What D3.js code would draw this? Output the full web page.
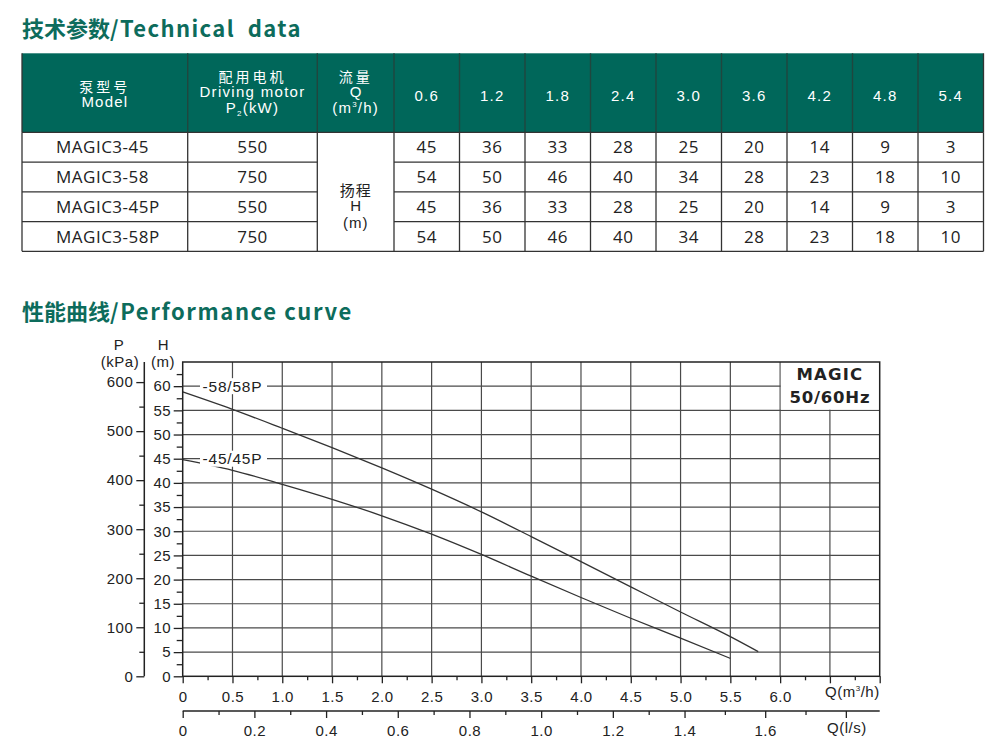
<!DOCTYPE html>
<html>
<head>
<meta charset="utf-8">
<script src="https://cdn.jsdelivr.net/npm/d3@7"></script>
<style>
  body { margin: 0; background: #fff; }
  svg { display: block; }
</style>
</head>
<body>
<div id="vis-container"></div>
<script>
// ---- table data ----
const flowHeads = ["0.6", "1.2", "1.8", "2.4", "3.0", "3.6", "4.2", "4.8", "5.4"];
const models = ["MAGIC3-45", "MAGIC3-58", "MAGIC3-45P", "MAGIC3-58P"];
const motors = ["550", "750", "550", "750"];
const heads = [
  [45, 36, 33, 28, 25, 20, 14, 9, 3],
  [54, 50, 46, 40, 34, 28, 23, 18, 10],
  [45, 36, 33, 28, 25, 20, 14, 9, 3],
  [54, 50, 46, 40, 34, 28, 23, 18, 10]
];

// ---- curve data ----
const curveQ58 = [0, 0.5, 1, 1.5, 2, 2.5, 3, 3.5, 4, 4.5, 5, 5.5, 5.78];
const curveH58 = [58.8, 55.2, 51.3, 47.3, 43.1, 38.7, 34.0, 28.9, 23.7, 18.5, 13.3, 8.2, 5.1];
const curveQ45 = [0, 0.5, 1, 1.5, 2, 2.5, 3, 3.5, 4, 4.5, 5, 5.5];
const curveH45 = [44.8, 42.6, 39.7, 36.6, 33.2, 29.4, 25.2, 20.7, 16.3, 12.0, 7.9, 3.7];
const curveNames = ["-58/58P", "-45/45P"];
const curveLabelH = [60, 45];

// ---- axis ticks ----
const hTicks = d3.range(0, 61, 5);
const pTicks = d3.range(0, 601, 100);
const qTicks = d3.range(0, 6.01, 0.5);
const qlsTicks = [0, 0.2, 0.4, 0.6, 0.8, 1.0, 1.2, 1.4, 1.6];
// l/s axis as printed: stretched after 1.4
const qlsKnots = [0, 1.4, 1.8];
const qlsAtQ = [0, 5.04, 6.66];

const W = 1004, H = 750;
const svg = d3.select("#vis-container").append("svg")
  .attr("width", W).attr("height", H);

const green = "#00675a";
const titleGreen = "#0d6c5c";
const ink = "#222";
const latin = "'Liberation Sans', Arial, sans-serif";
const cjk = "'Noto Sans CJK SC', sans-serif";
const body = "'Open Sans', sans-serif";

// Titles
function title(y, cn, en, ls) {
  const t = svg.append("text")
    .attr("x", 22).attr("y", y)
    .attr("fill", titleGreen)
    .style("font-family", cjk)
    .style("font-weight", 700)
    .style("font-size", "22px");
  t.append("tspan").text(cn);
  t.append("tspan").style("letter-spacing", ls + "px").text(en);
}
title(36.5, "技术参数", "/Technical\u00a0\u00a0data", 1.4);
title(319.5, "性能曲线", "/Performance curve", 1.6);

// ---- Table ----
const colEdges = [22, 187.7, 317.3, 394].concat(d3.range(1, 10).map(i => 394 + i * 65.5));
const headTop = 53.3, headBot = 132.3, rowH = 29.75;
const rowEdges = d3.range(0, 5).map(i => headBot + i * rowH);
const tbl = svg.append("g");

tbl.append("rect")
  .attr("x", colEdges[0]).attr("y", headTop)
  .attr("width", colEdges[12] - colEdges[0]).attr("height", headBot - headTop)
  .attr("fill", green);

function cellText(x, yc, str, opt = {}) {
  const size = opt.size || 15;
  return tbl.append("text")
    .attr("x", x).attr("y", yc + size * 0.36)
    .attr("text-anchor", opt.anchor || "middle")
    .attr("fill", opt.fill || ink)
    .style("font-family", opt.font || latin)
    .style("font-size", size + "px")
    .style("letter-spacing", (opt.ls || 0) + "px")
    .text(str);
}

const mid = i => (colEdges[i] + colEdges[i + 1]) / 2;
const white = "#fff";
cellText(mid(0), 86.7, "泵型号", { font: cjk, size: 14, fill: white, ls: 3 });
cellText(mid(0), 101.7, "Model", { size: 15, fill: white, ls: 1.2 });
cellText(mid(1), 76.7, "配用电机", { font: cjk, size: 14, fill: white, ls: 3 });
cellText(mid(1), 91.7, "Driving motor", { size: 15, fill: white, ls: 1.3 });
const p2 = cellText(mid(1), 107.3, "P", { size: 15, fill: white, ls: 1.2 });
p2.append("tspan").attr("dy", 3).style("font-size", "8px").text("2");
p2.append("tspan").attr("dy", -3).text("(kW)");
cellText(mid(2), 76.7, "流量", { font: cjk, size: 14, fill: white, ls: 3 });
cellText(mid(2), 91.7, "Q", { size: 15, fill: white });
const m3 = cellText(mid(2), 107.3, "(m", { size: 15, fill: white, ls: 1.2 });
m3.append("tspan").attr("dy", -6).style("font-size", "8px").text("3");
m3.append("tspan").attr("dy", 6).text("/h)");
flowHeads.forEach((f, i) => {
  cellText(mid(3 + i), 96, f, { size: 15, fill: white, ls: 1.2 });
});

// body cells
models.forEach((m, r) => {
  const yc = (rowEdges[r] + rowEdges[r + 1]) / 2;
  cellText(56, yc, m, { font: body, size: 17, anchor: "start", ls: 0.5 });
  cellText(mid(1), yc, motors[r], { font: body, size: 17, ls: 0.5 });
  heads[r].forEach((v, i) => cellText(mid(3 + i), yc, v, { font: body, size: 17, ls: 0.5 }));
});
cellText(mid(2), 190.7, "扬程", { font: cjk, size: 15, ls: 1 });
cellText(mid(2), 205.9, "H", { size: 15 });
cellText(mid(2), 222.7, "(m)", { size: 15, ls: 1 });

// table lines
colEdges.slice(1, -1).forEach(x => {
  tbl.append("line").attr("x1", x).attr("x2", x).attr("y1", headTop).attr("y2", headBot)
    .attr("stroke", "#20463e").attr("stroke-width", 1.4);
});
colEdges.forEach(x => {
  tbl.append("line").attr("x1", x).attr("x2", x).attr("y1", headBot).attr("y2", rowEdges[4])
    .attr("stroke", "#333").attr("stroke-width", 1.3);
});
[0, 12].forEach(i => {
  tbl.append("line").attr("x1", colEdges[i]).attr("x2", colEdges[i]).attr("y1", headTop).attr("y2", headBot)
    .attr("stroke", "#333").attr("stroke-width", 1.3);
});
rowEdges.forEach((y, r) => {
  const segs = (r === 0 || r === 4)
    ? [[colEdges[0], colEdges[12]]]
    : [[colEdges[0], colEdges[2]], [colEdges[3], colEdges[12]]];
  segs.forEach(([a, b]) => tbl.append("line").attr("x1", a).attr("x2", b).attr("y1", y).attr("y2", y)
    .attr("stroke", "#333").attr("stroke-width", 1.3));
});

// ---- Performance chart ----
const x = d3.scaleLinear().domain([0, 7]).range([182.7, 879.7]);
const y = d3.scaleLinear().domain([0, 65]).range([676.3, 362]);
const p = d3.scaleLinear().domain([0, 641]).range([676.3, 362]);
const qls = d3.scaleLinear().domain(qlsKnots).range(qlsAtQ.map(x));

const chart = svg.append("g");

// grid
const grid = chart.append("g").attr("stroke", "#4a4a4a").attr("stroke-width", 1.2);
d3.range(0.5, 7, 0.5).forEach(v => {
  grid.append("line").attr("x1", x(v)).attr("x2", x(v)).attr("y1", y(0)).attr("y2", y(65));
});
d3.range(5, 65, 5).forEach(v => {
  grid.append("line").attr("x1", x(0)).attr("x2", x(7)).attr("y1", y(v)).attr("y2", y(v));
});

// legend box
chart.append("rect")
  .attr("x", x(6) + 0.7).attr("y", y(65))
  .attr("width", x(7) - x(6) - 0.7).attr("height", y(55) - y(65) - 0.7)
  .attr("fill", "#fff");
chart.append("text").attr("x", (x(6) + x(7)) / 2).attr("y", 380)
  .attr("text-anchor", "middle").attr("fill", ink)
  .style("font-family", "'DejaVu Sans', sans-serif").style("font-weight", 700)
  .style("font-size", "16.5px").style("letter-spacing", "1.2px").text("MAGIC");
chart.append("text").attr("x", (x(6) + x(7)) / 2).attr("y", 402.7)
  .attr("text-anchor", "middle").attr("fill", ink)
  .style("font-family", "'DejaVu Sans', sans-serif").style("font-weight", 700)
  .style("font-size", "16.5px").style("letter-spacing", "0.8px").text("50/60Hz");

// curves
const line = d3.line()
  .x(d => x(d[0]))
  .y(d => y(d[1]))
  .curve(d3.curveMonotoneX);
[[curveQ58, curveH58], [curveQ45, curveH45]].forEach(([qs, hs]) => {
  chart.append("path")
    .datum(qs.map((q, i) => [q, hs[i]]))
    .attr("fill", "none")
    .attr("stroke", "#333")
    .attr("stroke-width", 1.3)
    .attr("d", line);
});

// curve labels
curveNames.forEach((name, i) => {
  const yc = y(curveLabelH[i]);
  chart.append("rect").attr("x", 200).attr("y", yc - 8).attr("width", 67).attr("height", 16).attr("fill", "#fff");
  chart.append("text").attr("x", 202.5).attr("y", yc + 5.6)
    .attr("fill", ink)
    .style("font-family", latin).style("font-size", "15.5px").style("letter-spacing", "0.8px")
    .text(name);
});

// plot frame
chart.append("rect")
  .attr("x", x(0)).attr("y", y(65))
  .attr("width", x(7) - x(0)).attr("height", y(0) - y(65))
  .attr("fill", "none").attr("stroke", "#222").attr("stroke-width", 1.5);

function styleAxis(g) {
  g.select(".domain").remove();
  g.selectAll("line").attr("stroke", "#222").attr("stroke-width", 1.3);
  g.selectAll("text").attr("fill", ink)
    .style("font-family", latin).style("font-size", "15px").style("letter-spacing", "0.5px");
}

const fmt1 = d => d === 0 ? "0" : d3.format(".1f")(d);

// H axis (left edge of plot)
chart.append("g").attr("transform", `translate(${x(0)},0)`)
  .call(d3.axisLeft(y).tickValues(d3.range(2.5, 65, 5)).tickSize(6).tickFormat(""))
  .call(styleAxis);
chart.append("g").attr("transform", `translate(${x(0)},0)`)
  .call(d3.axisLeft(y).tickValues(hTicks).tickSize(9).tickPadding(2.5))
  .call(styleAxis);

// P axis
const pX = 144.3;
chart.append("line").attr("x1", pX).attr("x2", pX).attr("y1", p(0)).attr("y2", y(65))
  .attr("stroke", "#222").attr("stroke-width", 1.5);
chart.append("g").attr("transform", `translate(${pX},0)`)
  .call(d3.axisLeft(p).tickValues(d3.range(50, 641, 100)).tickSize(5).tickFormat(""))
  .call(styleAxis);
chart.append("g").attr("transform", `translate(${pX},0)`)
  .call(d3.axisLeft(p).tickValues(pTicks).tickSize(8).tickPadding(3))
  .call(styleAxis);

// axis titles
function label(xc, yc, str, anchor = "middle") {
  return chart.append("text").attr("x", xc).attr("y", yc + 5.4)
    .attr("text-anchor", anchor).attr("fill", ink)
    .style("font-family", latin).style("font-size", "15px").style("letter-spacing", "0.5px")
    .text(str);
}
label(119, 345, "P");
label(120, 361.5, "(kPa)");
label(163.3, 345, "H");
label(163, 361.5, "(m)");

// Q (m3/h) axis
chart.append("g").attr("transform", `translate(0,${y(0)})`)
  .call(d3.axisBottom(x).tickValues(d3.range(0.25, 7, 0.5)).tickSize(4).tickFormat(""))
  .call(styleAxis);
chart.append("g").attr("transform", `translate(0,${y(0)})`)
  .call(d3.axisBottom(x).tickValues(qTicks.concat([6.5, 7])).tickSize(7).tickPadding(8)
    .tickFormat(d => d > 6 ? "" : fmt1(d)))
  .call(styleAxis);
const qm = label(825, 692, "Q(m", "start");
qm.append("tspan").attr("dy", -6).style("font-size", "8px").text("3");
qm.append("tspan").attr("dy", 6).text("/h)");

// Q (l/s) axis
const lsY = 711;
chart.append("line").attr("x1", x(0)).attr("x2", x(7)).attr("y1", lsY).attr("y2", lsY)
  .attr("stroke", "#222").attr("stroke-width", 1.5);
chart.append("g").attr("transform", `translate(0,${lsY})`)
  .call(d3.axisBottom(qls).tickValues(d3.range(0.1, 1.8, 0.2)).tickSize(4).tickFormat(""))
  .call(styleAxis);
chart.append("g").attr("transform", `translate(0,${lsY})`)
  .call(d3.axisBottom(qls).tickValues(qlsTicks.concat([1.8])).tickSize(7).tickPadding(7.5)
    .tickFormat(d => d > 1.7 ? "" : fmt1(d)))
  .call(styleAxis);
label(827, 728, "Q(l/s)", "start");
</script>
</body>
</html>
